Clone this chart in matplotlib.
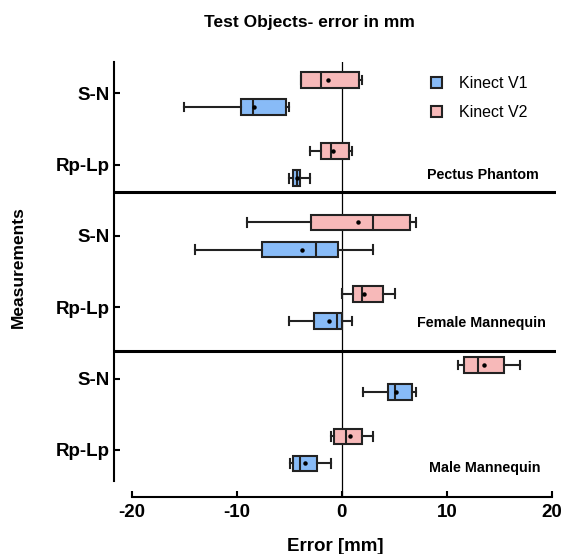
import matplotlib
matplotlib.use("Agg")
import matplotlib.pyplot as plt
from matplotlib.patches import Patch

plt.rcParams['font.family'] = ['Liberation Sans', 'DejaVu Sans']

# rows top to bottom: Pectus S-N, Pectus Rp-Lp, Female S-N, Female Rp-Lp, Male S-N, Male Rp-Lp
row_labels = ["S-N", "Rp-Lp", "S-N", "Rp-Lp", "S-N", "Rp-Lp"]
group_names = ["Pectus Phantom", "Female Mannequin", "Male Mannequin"]

# Kinect V1 (blue)
v1_whislo = [-15.0, -5.0, -14.0, -5.0, 2.0, -4.9]
v1_q1 = [-9.65, -4.67, -7.65, -2.67, 4.4, -4.67]
v1_med = [-8.45, -4.3, -2.5, -0.48, 5.05, -3.97]
v1_mean = [-8.35, -4.25, -3.75, -1.27, 5.2, -3.5]
v1_q3 = [-5.3, -4.0, -0.35, -0.03, 6.7, -2.35]
v1_whishi = [-5.08, -3.0, 3.0, 1.0, 7.05, -1.0]

# Kinect V2 (pink)
v2_whislo = [-3.93, -3.0, -9.0, 0.0, 11.1, -1.0]
v2_q1 = [-3.93, -1.94, -2.95, 1.05, 11.6, -0.73]
v2_med = [-2.03, -1.0, 3.0, 1.95, 13.0, 0.44]
v2_mean = [-1.36, -0.82, 1.56, 2.13, 13.5, 0.73]
v2_q3 = [1.62, 0.67, 6.5, 3.95, 15.4, 1.9]
v2_whishi = [1.95, 1.0, 7.05, 5.05, 17.0, 3.0]

blue = '#88BBF7'
pink = '#F7B9B9'
edge = '#222222'


def make_stats(lo, q1, med, mean, q3, hi):
    return [dict(whislo=a, q1=b, med=c, mean=d, q3=e, whishi=f, fliers=[])
            for a, b, c, d, e, f in zip(lo, q1, med, mean, q3, hi)]


fig = plt.figure(figsize=(5.63, 5.54), dpi=100)
ax = fig.add_axes([0.2025, 0.1029, 0.7851, 0.7852])

rows = list(range(len(row_labels)))
off = 0.19
bw = 0.22

for stats, col, shift in [
        (make_stats(v1_whislo, v1_q1, v1_med, v1_mean, v1_q3, v1_whishi), blue, off),
        (make_stats(v2_whislo, v2_q1, v2_med, v2_mean, v2_q3, v2_whishi), pink, -off)]:
    ax.bxp(stats, positions=[r + shift for r in rows], vert=False, widths=bw,
           capwidths=bw * 0.55, patch_artist=True, showmeans=True, showfliers=False,
           boxprops=dict(facecolor=col, edgecolor=edge, linewidth=1.5),
           medianprops=dict(color=edge, linewidth=1.5),
           whiskerprops=dict(color=edge, linewidth=1.5),
           capprops=dict(color=edge, linewidth=1.5),
           meanprops=dict(marker='o', markerfacecolor='black', markeredgecolor='black',
                          markersize=2.2))

ax.set_xlim(-21.7, 20.4)
ax.set_ylim(5.66, -0.44)

ax.axvline(0, color='black', lw=0.9, zorder=0)
for ysep in [1.38, 3.61]:
    ax.axhline(ysep, color='black', lw=2.2)

ax.spines['top'].set_visible(False)
ax.spines['right'].set_visible(False)
ax.spines['left'].set_linewidth(1.5)
ax.spines['bottom'].set_linewidth(1.5)
ax.spines['left'].set_bounds(-0.44, 5.43)
ax.spines['bottom'].set_bounds(-20, 20)

ax.set_yticks(rows)
ax.set_yticklabels(row_labels, fontsize=13.5, fontweight='bold')
ax.set_xticks([-20, -10, 0, 10, 20])
ax.set_xticklabels(['-20', '-10', '0', '10', '20'], fontsize=13.5, fontweight='bold')
ax.tick_params(axis='both', direction='in', length=4, width=1.5)
ax.tick_params(axis='y', pad=3)
ax.tick_params(axis='x', pad=5)

ax.set_xlabel('Error [mm]', fontsize=13.5, fontweight='bold', labelpad=12.5)
fig.text(0.032, 0.518, 'Measurements', rotation=90, fontsize=12.5, fontweight='bold',
         ha='center', va='center')
fig.text(0.549, 0.96, 'Test Objects- error in mm', fontsize=12.5, fontweight='bold',
         ha='center', va='center')

label_pos = [(18.76, 1.14), (19.43, 3.22), (18.95, 5.25)]
for name, (lx, ly) in zip(group_names, label_pos):
    ax.text(lx, ly, name, fontsize=10.3, fontweight='bold', ha='right', va='center')

handles = [Patch(facecolor=blue, edgecolor=edge, linewidth=1.5, label='Kinect V1'),
           Patch(facecolor=pink, edgecolor=edge, linewidth=1.5, label='Kinect V2')]
ax.legend(handles=handles, loc='upper left', bbox_to_anchor=(0.685, 1.0), frameon=False,
          fontsize=11.5, handlelength=0.65, handleheight=0.65, handletextpad=1.1,
          labelspacing=0.85)

fig.savefig('out.png', dpi=100)
